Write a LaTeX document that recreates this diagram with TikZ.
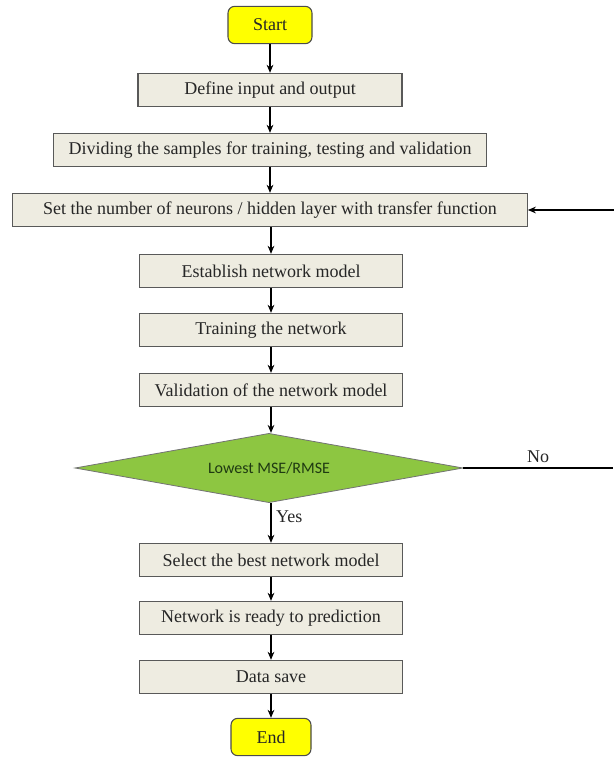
\documentclass[tikz,border=0pt]{standalone}
\usepackage{fontspec}
\setmainfont{Liberation Serif}
\newfontfamily\calibri{Carlito}
\usepackage{xcolor}
\usepackage{tikz}
\usetikzlibrary{shapes.geometric, arrows.meta, positioning}

\definecolor{boxfill}{HTML}{EEECE1}
\definecolor{termfill}{HTML}{FFFF00}
\definecolor{decfill}{HTML}{8DC641}
\definecolor{dectext}{HTML}{1F3A12}

\begin{document}
\begin{tikzpicture}[
  x=0.75pt, y=-0.75pt,
  box/.style={
    rectangle, draw=black!65, line width=0.8pt, fill=boxfill,
    minimum width=197pt, minimum height=25pt,
    font=\fontsize{13.5}{15}\selectfont, text=black!85, text centered, inner sep=2pt
  },
  term/.style={
    rectangle, draw=black!70, line width=0.8pt, rounded corners=5pt,
    fill=termfill, minimum height=28pt,
    font=\fontsize{13.5}{15}\selectfont, text=black!85, text centered
  },
  decision/.style={
    diamond, aspect=5.6, draw=black!55, line width=0.6pt, fill=decfill,
    minimum width=291pt, minimum height=52pt, inner sep=0pt,
    font=\calibri\fontsize{12}{14}\selectfont, text=dectext
  },
  lbl/.style={font=\fontsize{13.5}{15}\selectfont, text=black!85},
  arrow/.style={-{Stealth[length=6pt,width=5pt]}, line width=1pt, black}
]
\useasboundingbox (0,0) rectangle (614,757);

% --- Start ---
\node[term, minimum width=63pt] (start) at (270,25) {Start};

% --- Preparation ---
\node[box, minimum width=198pt] (define) at (270,90)  {Define input and output};
\node[box, minimum width=325pt] (divide) at (270,150) {Dividing the samples for training, testing and validation};
\node[box, minimum width=386pt] (neuron) at (270,210) {Set the number of neurons / hidden layer with transfer function};

% --- Network ---
\node[box] (model) at (271,271) {Establish network model};
\node[box] (train) at (271,330) {Training the network};
\node[box] (valid) at (271,390) {Validation of the network model};

% --- Decision ---
\node[decision] (mse) at (269,468) {Lowest MSE/RMSE};
\coordinate (noout) at (613,468);
\coordinate (loopin) at (614,210);

% --- Output ---
\node[box] (best)  at (271,560) {Select the best network model};
\node[box] (ready) at (271,618) {Network is ready to prediction};
\node[box] (save)  at (271,677) {Data save};
\node[term, minimum width=60pt] (finish) at (271,737) {End};

% Arrows
\draw[arrow] (start)  -- (define);
\draw[arrow] (define) -- (divide);
\draw[arrow] (divide) -- (neuron);
\draw[arrow] (neuron.south -| model) -- (model);
\draw[arrow] (model)  -- (train);
\draw[arrow] (train)  -- (valid);
\draw[arrow] (valid)  -- (mse.north -| valid);
\draw[arrow] (mse.south -| best) -- node[lbl, right, pos=0.35] {Yes} (best);
\draw[arrow] (best)   -- (ready);
\draw[arrow] (ready)  -- (save);
\draw[arrow] (save)   -- (finish);
\draw[line width=1pt] (mse.east) -- node[lbl, above, pos=0.5] {No} (noout);
\draw[arrow] (loopin) -- (neuron.east);

\end{tikzpicture}
\end{document}
